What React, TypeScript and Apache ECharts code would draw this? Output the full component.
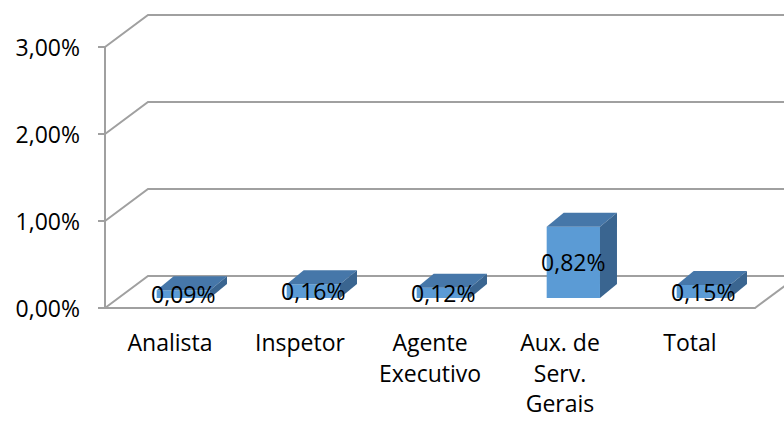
import React, { useEffect, useRef } from "react";
import * as echarts from "echarts";

const categories = ["Analista", "Inspetor", "Agente\nExecutivo", "Aux. de\nServ.\nGerais", "Total"];
const values = [0.09, 0.16, 0.12, 0.82, 0.15];
const yTicks = [0, 1, 2, 3];

const FONT = "'Open Sans', sans-serif";
const GRID_COLOR = "#A0A0A0";
const WALL_DX = 43;
const WALL_DY = -32;
const BAR_DX = 17;
const BAR_DY = -14;
const DEPTH_POS = 0.31;

const fmt = (v: number) => v.toFixed(2).replace(".", ",") + "%";

export default function App() {
  const ref = useRef<HTMLDivElement>(null);
  useEffect(() => {
    document.body.style.margin = "0";
    const chart = echarts.init(ref.current!, null, { renderer: "svg" });
    chart.setOption({
      animation: false,
      backgroundColor: "#fff",
      grid: { left: 105, right: 29, top: 47, bottom: 113 },
      xAxis: {
        type: "category",
        data: categories,
        axisLine: { lineStyle: { color: GRID_COLOR, width: 2 } },
        axisTick: { length: 9, lineStyle: { color: GRID_COLOR, width: 2 } },
        axisLabel: {
          color: "#000",
          fontSize: 23,
          fontFamily: FONT,
          lineHeight: 30.5,
          margin: 19,
          interval: 0,
        },
        splitLine: { show: false },
      },
      yAxis: {
        type: "value",
        min: 0,
        max: 3,
        interval: 1,
        axisLine: { show: true, lineStyle: { color: GRID_COLOR, width: 2 } },
        axisTick: { show: true, length: 7, lineStyle: { color: GRID_COLOR, width: 2 } },
        axisLabel: {
          color: "#000",
          fontSize: 23,
          fontFamily: FONT,
          margin: 25,
          formatter: (v: number) => fmt(v),
        },
        splitLine: { show: false },
      },
      series: [
        {
          type: "custom",
          silent: true,
          clip: false,
          data: yTicks.map((t) => [0, t]),
          renderItem: (params: any, api: any) => {
            const cs = params.coordSys;
            const level = api.value(1);
            const y = api.coord([0, level])[1];
            const x0 = cs.x;
            const x1 = cs.x + cs.width;
            const children: any[] = [
              {
                type: "polyline",
                shape: {
                  points: [
                    [x0, y],
                    [x0 + WALL_DX, y + WALL_DY],
                    [x1 + WALL_DX, y + WALL_DY],
                  ],
                },
                style: { stroke: GRID_COLOR, lineWidth: 2, fill: null },
              },
            ];
            if (level === 0) {
              children.push({
                type: "line",
                shape: { x1: x1, y1: y, x2: x1 + WALL_DX, y2: y + WALL_DY },
                style: { stroke: GRID_COLOR, lineWidth: 2 },
              });
            }
            return { type: "group", children };
          },
        },
        {
          type: "custom",
          clip: false,
          data: values.map((v, i) => [i, v]),
          renderItem: (params: any, api: any) => {
            const idx = api.value(0);
            const val = api.value(1);
            const base = api.coord([idx, 0]);
            const top = api.coord([idx, val]);
            const band = api.size([1, 0])[0];
            const w = band * 0.41;
            const cx = base[0] + DEPTH_POS * WALL_DX;
            const l = cx - w / 2;
            const r = cx + w / 2;
            const yb = base[1] + DEPTH_POS * WALL_DY;
            const yt = top[1] + DEPTH_POS * WALL_DY;
            return {
              type: "group",
              children: [
                {
                  type: "rect",
                  shape: { x: l, y: yt, width: w, height: yb - yt },
                  style: { fill: "#5B9BD5" },
                },
                {
                  type: "polygon",
                  shape: {
                    points: [
                      [l, yt],
                      [r, yt],
                      [r + BAR_DX, yt + BAR_DY],
                      [l + BAR_DX, yt + BAR_DY],
                    ],
                  },
                  style: { fill: "#4677A9" },
                },
                {
                  type: "polygon",
                  shape: {
                    points: [
                      [r, yt],
                      [r + BAR_DX, yt + BAR_DY],
                      [r + BAR_DX, yb + BAR_DY],
                      [r, yb],
                    ],
                  },
                  style: { fill: "#3A6590" },
                },
                {
                  type: "text",
                  style: {
                    text: fmt(val),
                    x: cx,
                    y: (yt + yb) / 2,
                    align: "center",
                    verticalAlign: "middle",
                    fontSize: 23,
                    fontFamily: FONT,
                    fill: "#000",
                  },
                },
              ],
            };
          },
        },
      ],
    });
    return () => chart.dispose();
  }, []);
  return <div ref={ref} style={{ width: 784, height: 421 }} />;
}
